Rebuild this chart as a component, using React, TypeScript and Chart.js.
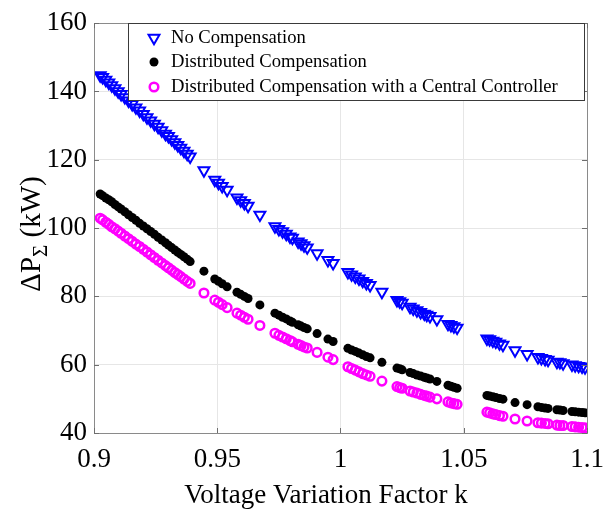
import React, { useEffect, useRef } from "react";
import { Chart, registerables } from "chart.js";

Chart.register(...registerables);

const kValues = [
  0.9025, 0.9035, 0.9048, 0.906, 0.9072, 0.9085, 0.9098, 0.911, 0.9125, 0.914,
  0.9155, 0.917, 0.9185, 0.92, 0.9215, 0.923, 0.9245, 0.926, 0.9275, 0.929,
  0.9302, 0.9315, 0.9328, 0.934, 0.9352, 0.9365, 0.9378, 0.939, 0.9446, 0.949,
  0.9505, 0.952, 0.954, 0.958, 0.9595, 0.961, 0.9625, 0.9673, 0.9734, 0.975,
  0.9765, 0.978, 0.9795, 0.9805, 0.9828, 0.984, 0.9852, 0.9865, 0.9905, 0.9949,
  0.997, 1.003, 1.0045, 1.006, 1.0075, 1.009, 1.0105, 1.012, 1.0168, 1.0229,
  1.024, 1.025, 1.0282, 1.0295, 1.031, 1.0325, 1.034, 1.035, 1.0363, 1.0391,
  1.0436, 1.0448, 1.046, 1.0473, 1.0594, 1.0605, 1.0618, 1.063, 1.0645, 1.0659,
  1.0708, 1.0757, 1.0801, 1.0815, 1.083, 1.0842, 1.0878, 1.089, 1.0903, 1.0939,
  1.0952, 1.0966, 1.098, 1.0992,
];

const noCompensation = [
  144.7, 144.2, 143.4, 142.6, 141.8, 140.9, 140.0, 139.2, 138.3, 137.3,
  136.3, 135.3, 134.4, 133.4, 132.4, 131.5, 130.5, 129.6, 128.6, 127.6,
  126.9, 126.0, 125.1, 124.3, 123.5, 122.6, 121.7, 120.9, 116.9, 114.1,
  113.2, 112.3, 111.2, 108.9, 108.1, 107.3, 106.5, 103.9, 100.5, 99.7,
  99.0, 98.3, 97.5, 97.1, 96.0, 95.5, 94.9, 94.3, 92.6, 90.6,
  89.7, 87.1, 86.4, 85.8, 85.2, 84.5, 83.9, 83.3, 81.3, 78.9,
  78.5, 78.1, 76.9, 76.4, 75.9, 75.4, 74.9, 74.6, 74.2, 73.3,
  71.9, 71.6, 71.2, 70.8, 67.6, 67.4, 67.0, 66.7, 66.2, 65.8,
  64.2, 63.1, 62.2, 61.9, 61.6, 61.4, 60.8, 60.7, 60.4, 60.0,
  59.8, 59.6, 59.4, 59.2,
];

const distributedCompensation = [
  110.0, 109.5, 108.8, 108.3, 107.7, 106.9, 106.2, 105.6, 104.8, 103.9,
  103.1, 102.3, 101.4, 100.6, 99.8, 99.0, 98.2, 97.3, 96.5, 95.7,
  95.0, 94.3, 93.6, 92.9, 92.3, 91.6, 90.9, 90.2, 87.4, 85.1,
  84.4, 83.7, 82.8, 81.2, 80.6, 80.0, 79.4, 77.5, 75.1, 74.5,
  73.9, 73.4, 72.8, 72.4, 71.7, 71.3, 70.9, 70.5, 69.1, 67.5,
  66.8, 64.8, 64.3, 63.9, 63.4, 62.9, 62.4, 62.0, 60.7, 59.0,
  58.8, 58.5, 57.7, 57.4, 57.0, 56.7, 56.3, 56.1, 55.8, 55.1,
  54.0, 53.7, 53.4, 53.1, 51.0, 50.8, 50.6, 50.4, 50.1, 49.9,
  48.9, 48.3, 47.7, 47.5, 47.3, 47.2, 46.8, 46.7, 46.6, 46.3,
  46.2, 46.1, 46.0, 45.9,
];

const centralController = [
  102.9, 102.4, 101.7, 101.1, 100.4, 99.8, 99.1, 98.5, 97.7, 96.9,
  96.1, 95.3, 94.6, 93.8, 93.0, 92.2, 91.4, 90.6, 89.8, 89.0,
  88.4, 87.7, 87.0, 86.4, 85.8, 85.1, 84.4, 83.8, 81.0, 78.9,
  78.3, 77.6, 76.7, 75.1, 74.5, 73.9, 73.3, 71.5, 69.2, 68.6,
  68.1, 67.6, 67.1, 66.7, 66.0, 65.6, 65.2, 64.9, 63.6, 62.2,
  61.5, 59.4, 58.9, 58.4, 57.9, 57.4, 57.0, 56.6, 55.2, 53.6,
  53.3, 53.1, 52.3, 52.0, 51.7, 51.3, 51.0, 50.8, 50.5, 50.0,
  49.1, 48.8, 48.6, 48.4, 46.1, 45.9, 45.6, 45.4, 45.1, 44.9,
  44.1, 43.5, 43.0, 42.9, 42.8, 42.7, 42.3, 42.2, 42.2, 41.9,
  41.8, 41.7, 41.6, 41.5,
];

const seriesNames = [
  "No Compensation",
  "Distributed Compensation",
  "Distributed Compensation with a Central Controller",
];

const xTickValues = [0.9, 0.95, 1, 1.05, 1.1];
const xTickLabels = ["0.9", "0.95", "1", "1.05", "1.1"];
const yTickValues = [40, 60, 80, 100, 120, 140, 160];
const yTickLabels = ["40", "60", "80", "100", "120", "140", "160"];

const xTitle = "Voltage Variation Factor k";

const FONT = "'Liberation Serif', 'Times New Roman', Times, serif";
const BLUE = "#0000ff";
const MAGENTA = "#ff00ff";

function drawDownTriangle(ctx: CanvasRenderingContext2D, x: number, y: number, r: number) {
  ctx.beginPath();
  for (let i = 0; i < 3; i++) {
    const a = Math.PI + (i * 2 * Math.PI) / 3;
    const px = x + Math.sin(a) * r;
    const py = y - Math.cos(a) * r;
    if (i === 0) ctx.moveTo(px, py);
    else ctx.lineTo(px, py);
  }
  ctx.closePath();
}

const decorPlugin = {
  id: "decor",
  afterDraw(chart: any) {
    const ctx: CanvasRenderingContext2D = chart.ctx;
    const { left, right, top, bottom } = chart.chartArea;
    const xs = chart.scales.x;
    const ys = chart.scales.y;
    ctx.save();
    // frame
    ctx.strokeStyle = "#8a8a8a";
    ctx.lineWidth = 1;
    ctx.strokeRect(Math.round(left) + 0.5, Math.round(top) + 0.5, Math.round(right - left), Math.round(bottom - top));
    // inner ticks
    ctx.strokeStyle = "#6e6e6e";
    ctx.beginPath();
    yTickValues.forEach((v) => {
      const py = Math.round(ys.getPixelForValue(v)) + 0.5;
      ctx.moveTo(left, py);
      ctx.lineTo(left + 5, py);
      ctx.moveTo(right, py);
      ctx.lineTo(right - 5, py);
    });
    xTickValues.forEach((v) => {
      const px = Math.round(xs.getPixelForValue(v)) + 0.5;
      ctx.moveTo(px, bottom);
      ctx.lineTo(px, bottom - 5);
      ctx.moveTo(px, top);
      ctx.lineTo(px, top + 5);
    });
    ctx.stroke();

    // legend
    const lx = 128, ly = 23, lw = 456, lh = 77;
    ctx.fillStyle = "#ffffff";
    ctx.fillRect(lx, ly, lw, lh);
    ctx.strokeStyle = "#3a3a3a";
    ctx.lineWidth = 1;
    ctx.strokeRect(lx + 0.5, ly + 0.5, lw, lh);
    const rows = [38, 62, 87];
    const mx = 154;
    ctx.strokeStyle = BLUE;
    ctx.lineWidth = 2;
    drawDownTriangle(ctx, mx, rows[0], 6.3);
    ctx.stroke();
    ctx.fillStyle = "#000000";
    ctx.beginPath();
    ctx.arc(mx, rows[1], 4.5, 0, Math.PI * 2);
    ctx.fill();
    ctx.strokeStyle = MAGENTA;
    ctx.lineWidth = 2.5;
    ctx.beginPath();
    ctx.arc(mx, rows[2], 4.3, 0, Math.PI * 2);
    ctx.stroke();
    ctx.fillStyle = "#000000";
    ctx.font = `18.6px ${FONT}`;
    ctx.textAlign = "left";
    ctx.textBaseline = "middle";
    seriesNames.forEach((n, i) => ctx.fillText(n, 171, rows[i]));

    // x title
    ctx.font = `27px ${FONT}`;
    ctx.textAlign = "center";
    ctx.textBaseline = "middle";
    ctx.fillText(xTitle, 326, 496);

    // y title: ΔP_Σ (kW)
    ctx.translate(31, 234);
    ctx.rotate(-Math.PI / 2);
    const big = `29px ${FONT}`;
    const small = `21px ${FONT}`;
    ctx.font = big;
    const w1 = ctx.measureText("\u0394P").width;
    const w3 = ctx.measureText(" (kW)").width;
    ctx.font = small;
    const w2 = ctx.measureText("\u03A3").width;
    const total = w1 + w2 + w3;
    let cx = -total / 2;
    ctx.textAlign = "left";
    ctx.textBaseline = "alphabetic";
    ctx.font = big;
    ctx.fillText("\u0394P", cx, 9);
    cx += w1;
    ctx.font = small;
    ctx.fillText("\u03A3", cx, 16);
    cx += w2;
    ctx.font = big;
    ctx.fillText(" (kW)", cx, 9);
    ctx.restore();
  },
};

export default function App() {
  const ref = useRef<HTMLCanvasElement | null>(null);
  useEffect(() => {
    if (!ref.current) return;
    const mk = (vals: number[]) => kValues.map((k, i) => ({ x: k, y: vals[i] }));
    const chart = new Chart(ref.current, {
      type: "scatter",
      data: {
        datasets: [
          {
            label: seriesNames[0],
            data: mk(noCompensation),
            pointStyle: "triangle",
            rotation: 180,
            pointRadius: 6.3,
            pointBorderWidth: 2,
            borderColor: BLUE,
            backgroundColor: "rgba(0,0,0,0)",
            pointHoverRadius: 6.3,
          } as any,
          {
            label: seriesNames[1],
            data: mk(distributedCompensation),
            pointStyle: "circle",
            pointRadius: 4.5,
            pointBorderWidth: 0,
            borderColor: "#000000",
            backgroundColor: "#000000",
          },
          {
            label: seriesNames[2],
            data: mk(centralController),
            pointStyle: "circle",
            pointRadius: 4.3,
            pointBorderWidth: 2.5,
            borderColor: MAGENTA,
            backgroundColor: "rgba(0,0,0,0)",
          },
        ],
      },
      options: {
        animation: false,
        responsive: false,
        events: [],
        layout: { padding: { top: 20, right: 28, left: 0, bottom: 0 } },
        plugins: {
          legend: { display: false },
          tooltip: { enabled: false },
          title: { display: false },
        },
        scales: {
          x: {
            type: "linear",
            min: 0.9,
            max: 1.1,
            afterBuildTicks: (s: any) => {
              s.ticks = xTickValues.map((v) => ({ value: v }));
            },
            afterFit: (s: any) => {
              s.height = 81;
            },
            grid: { color: "#e6e6e6", drawTicks: false },
            border: { display: false },
            ticks: {
              autoSkip: false,
              maxRotation: 0,
              padding: 11,
              color: "#000000",
              font: { family: FONT, size: 27 },
              callback: (_v: any, i: number) => xTickLabels[i],
            },
          },
          y: {
            type: "linear",
            min: 40,
            max: 160,
            afterBuildTicks: (s: any) => {
              s.ticks = yTickValues.map((v) => ({ value: v }));
            },
            afterFit: (s: any) => {
              s.width = 94;
            },
            grid: { color: "#e6e6e6", drawTicks: false },
            border: { display: false },
            ticks: {
              autoSkip: false,
              padding: 7,
              color: "#000000",
              font: { family: FONT, size: 27 },
              callback: (_v: any, i: number) => yTickLabels[i],
            },
          },
        },
      },
      plugins: [decorPlugin],
    });
    return () => chart.destroy();
  }, []);
  return (
    <div style={{ position: "fixed", left: 0, top: 0, width: 615, height: 514, background: "#ffffff" }}>
      <canvas ref={ref} width={615} height={514} style={{ display: "block" }} />
    </div>
  );
}
